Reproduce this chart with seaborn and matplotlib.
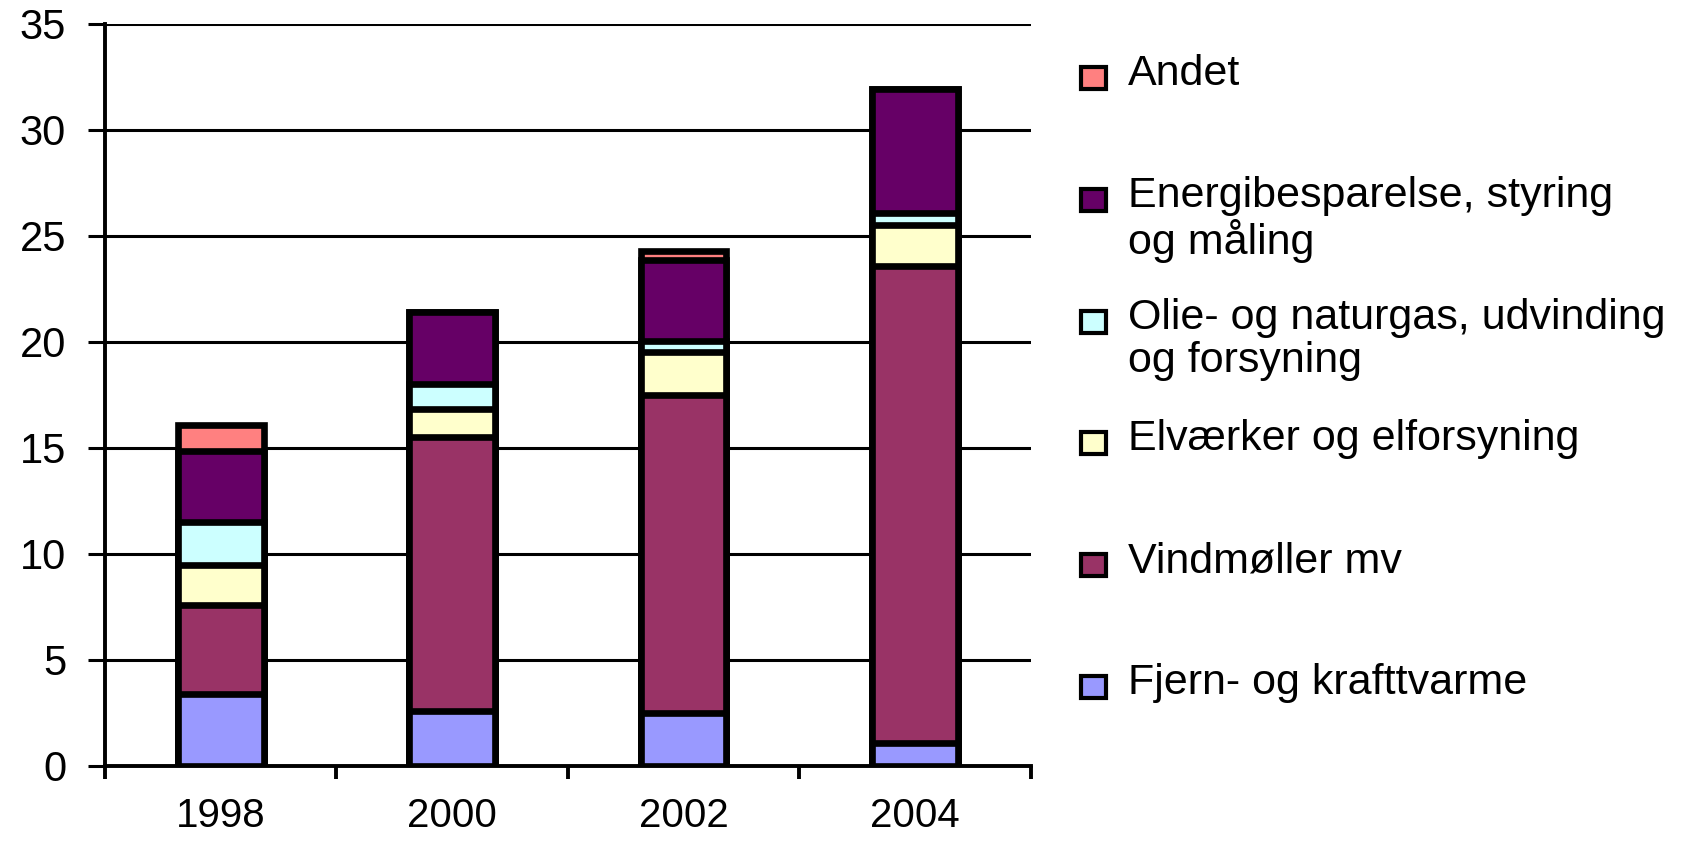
import pandas as pd
import matplotlib.pyplot as plt
import seaborn as sns
from matplotlib.patches import Rectangle

# data
years = ["1998", "2000", "2002", "2004"]
fjern = [3.4, 2.6, 2.5, 1.1]
vind = [4.2, 12.9, 15.0, 22.5]
elv = [1.9, 1.35, 2.05, 1.9]
olie = [2.0, 1.15, 0.5, 0.6]
energi = [3.35, 3.4, 3.8, 5.85]
andet = [1.25, 0.0, 0.45, 0.0]

names = ["Fjern- og krafttvarme", "Vindmøller mv", "Elværker og elforsyning",
         "Olie- og naturgas, udvinding\nog forsyning",
         "Energibesparelse, styring\nog måling", "Andet"]
colors = ["#9999ff", "#993366", "#ffffcc", "#ccffff", "#660066", "#ff8080"]

sns.set_style("white")
plt.rcParams["font.family"] = ["Liberation Sans", "DejaVu Sans"]

df = pd.DataFrame({"year": years, "fjern": fjern, "vind": vind, "elv": elv,
                   "olie": olie, "energi": energi, "andet": andet})
cols = ["fjern", "vind", "elv", "olie", "energi", "andet"]
cum = df[cols].cumsum(axis=1)

fig = plt.figure(figsize=(16.9, 8.42), dpi=100)
ax = fig.add_axes([0.0621, 0.0903, 0.5479, 0.8812])

# stacked bars: draw the tallest cumulative first, smaller ones on top
for col, c in reversed(list(zip(cols, colors))):
    sns.barplot(x=df["year"], y=cum[col], color=c, saturation=1, width=0.37,
                edgecolor="black", linewidth=4.8, errorbar=None, ax=ax)

ax.set_xlim(-0.5, 3.5)
ax.set_ylim(0, 35)
ax.set_yticks(range(0, 36, 5))
ax.set_xlabel("")
ax.set_ylabel("")
ax.grid(axis="y", color="black", linewidth=2.2)
ax.set_axisbelow(True)
for s in ["top", "right"]:
    ax.spines[s].set_visible(False)
for s in ["left", "bottom"]:
    ax.spines[s].set_color("black")
    ax.spines[s].set_linewidth(2.8)

ax.tick_params(axis="y", length=12, width=2.2, color="black", pad=16,
               labelsize=30, labelcolor="black", left=True)
ax.tick_params(axis="x", which="major", length=0, pad=22, labelsize=29,
               labelcolor="black")
ax.set_xticks([-0.5, 0.5, 1.5, 2.5, 3.5], minor=True)
ax.tick_params(axis="x", which="minor", length=9, width=2.8, color="black",
               direction="out", bottom=True)

# legend, first lines evenly spaced like the original
for i, (lab, c) in enumerate(zip(names[::-1], colors[::-1])):
    yc = 78 + i * 121.8
    fig.patches.append(Rectangle((1081 / 1690, 1 - (yc + 11) / 842), 25 / 1690, 22 / 842,
                                 transform=fig.transFigure, facecolor=c,
                                 edgecolor="black", linewidth=3))
    fig.text(1128 / 1690, 1 - (yc - 24) / 842, lab, fontsize=31, va="top",
             ha="left", color="black", linespacing=1.1)

fig.savefig("out.png", dpi=100)
